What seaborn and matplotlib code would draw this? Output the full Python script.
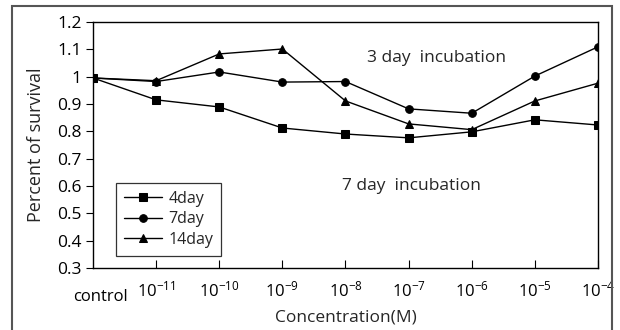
import matplotlib
matplotlib.use("Agg")
import matplotlib.pyplot as plt
import matplotlib.transforms as mtransforms
from matplotlib.patches import Rectangle
import seaborn as sns
import pandas as pd

categories = ["control", "1e-11", "1e-10", "1e-9", "1e-8", "1e-7", "1e-6", "1e-5", "1e-4"]
tick_labels = ["control", r"$\mathregular{10^{-11}}$", r"$\mathregular{10^{-10}}$",
               r"$\mathregular{10^{-9}}$", r"$\mathregular{10^{-8}}$", r"$\mathregular{10^{-7}}$",
               r"$\mathregular{10^{-6}}$", r"$\mathregular{10^{-5}}$", r"$\mathregular{10^{-4}}$"]
day4 = [0.995, 0.915, 0.889, 0.812, 0.790, 0.776, 0.798, 0.842, 0.823]
day7 = [0.995, 0.982, 1.017, 0.980, 0.982, 0.882, 0.866, 1.002, 1.109]
day14 = [0.995, 0.985, 1.083, 1.101, 0.911, 0.827, 0.806, 0.911, 0.976]
series_names = ["4day", "7day", "14day"]
series_values = [day4, day7, day14]
markers = ["s", "o", "^"]

sns.set_theme(style="ticks")
plt.rcParams["font.family"] = ["Open Sans", "DejaVu Sans"]
plt.rcParams["mathtext.fontset"] = "custom"
plt.rcParams["mathtext.rm"] = "Open Sans"

fig = plt.figure(figsize=(6.2, 3.3), dpi=100)
ax = fig.add_axes([0.15, 0.188, 0.8145, 0.7455])

rows = []
for name, vals in zip(series_names, series_values):
    for i, v in enumerate(vals):
        rows.append({"x": i, "value": v, "series": name})
df = pd.DataFrame(rows)

for name, m in zip(series_names, markers):
    sub = df[df["series"] == name]
    sns.lineplot(data=sub, x="x", y="value", ax=ax, color="black", lw=1.0,
                 marker=m, markersize=5.5 if m != "^" else 6, markeredgecolor="black", label=name)

ax.set_xlim(0, 8)
ax.set_ylim(0.3, 1.2)
ax.set_yticks([0.3, 0.4, 0.5, 0.6, 0.7, 0.8, 0.9, 1.0, 1.1, 1.2])
ax.set_yticklabels(["0.3", "0.4", "0.5", "0.6", "0.7", "0.8", "0.9", "1", "1.1", "1.2"])
ax.set_xticks(range(len(categories)))
ax.set_xticklabels(tick_labels)
ax.tick_params(axis="x", direction="in", length=6, width=0.8, labelsize=12, pad=9, colors="black")
ax.tick_params(axis="y", direction="out", length=5, width=0.8, labelsize=12.5, pad=3, colors="black")
ax.xaxis.get_major_ticks()[0].tick1line.set_visible(False)
lab0 = ax.get_xticklabels()[0]
lab0.set_transform(lab0.get_transform() + mtransforms.ScaledTranslation(7/100, -9/100, fig.dpi_scale_trans))

for s in ax.spines.values():
    s.set_visible(True)
    s.set_linewidth(1.0)
    s.set_color("black")

ax.set_xlabel("Concentration(M)", fontsize=12.5, labelpad=3)
ax.set_ylabel("Percent of survival", fontsize=13, labelpad=9)

ax.text(5.44, 1.068, "3 day  incubation", fontsize=12.5, ha="center", va="center")
ax.text(5.04, 0.60, "7 day  incubation", fontsize=12.5, ha="center", va="center")

leg = ax.legend(loc="lower left", bbox_to_anchor=(0.045, 0.049), borderaxespad=0, fontsize=11.5,
                frameon=True, fancybox=False, edgecolor="black", handlelength=2.4, borderpad=0.5,
                labelspacing=0.28, handletextpad=0.4)
leg.get_frame().set_linewidth(0.9)

fig.patches.append(Rectangle((12/620, -0.05), 600/620, 1.05 - 6/330, transform=fig.transFigure,
                             fill=False, edgecolor="#555555", lw=1.5))

fig.savefig("out.png", dpi=100)
